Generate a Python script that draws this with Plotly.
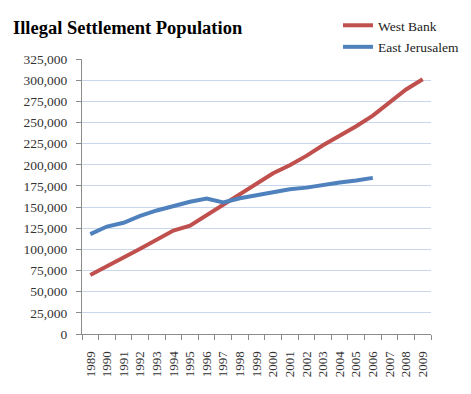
import plotly.graph_objects as go

years = [str(y) for y in range(1989, 2010)]
west_bank = [69800, 79500, 90300, 100700, 111000, 122300, 127900, 140500, 152500,
             165000, 178000, 190000, 199500, 210500, 223000, 234000, 245500, 258000,
             273000, 289000, 301000]
ej_years = [str(y) for y in range(1989, 2007)]
east_jerusalem = [118000, 127000, 131500, 139700, 146000, 151500, 156300, 160000, 155600,
                  160500, 164000, 167000, 171000, 173000, 176500, 179000, 181500, 184500]
y_ticks = list(range(0, 325001, 25000))
y_tick_text = [f"{v:,}" for v in y_ticks]

serif = "Liberation Serif, Times New Roman, serif"
# page body has an 8px margin, so the figure is sized to fit inside it
W, H = 463, 386
L, R, T, B = 74, 40, 51, 60
PW, PH = W - L - R, H - T - B

fig = go.Figure()
fig.add_trace(go.Scatter(x=years, y=west_bank, mode="lines", name="West Bank",
                         line=dict(color="#C0504D", width=4), legendgroup="a"))
fig.add_trace(go.Scatter(x=ej_years, y=east_jerusalem, mode="lines", name="East Jerusalem",
                         line=dict(color="#4F81BD", width=4), legendgroup="b"))

fig.update_layout(
    width=W, height=H,
    margin=dict(l=L, r=R, t=T, b=B, autoexpand=False),
    paper_bgcolor="white", plot_bgcolor="white",
    title=dict(text="<b>Illegal Settlement Population</b>",
               font=dict(family=serif, size=18.5, color="black"),
               xref="container", yref="container",
               x=5 / W, xanchor="left", y=1 - 20 / H, yanchor="middle"),
    showlegend=True,
    legend=dict(font=dict(family=serif, size=13.5, color="#222"),
                xref="paper", yref="paper",
                x=(330 - L) / PW, xanchor="left", y=(H - B - 2) / PH, yanchor="top",
                bgcolor="rgba(255,255,255,0)", traceorder="grouped",
                tracegroupgap=1),
    xaxis=dict(type="category", range=[-0.5, 20.5], tickson="boundaries",
               tickmode="linear", tick0=0, dtick=1, automargin=False,
               showgrid=False, showline=True, linecolor="#8c8c8c", linewidth=1,
               ticks="outside", ticklen=5, tickcolor="#8c8c8c",
               ticklabelstandoff=11,
               tickangle=-90, tickfont=dict(family=serif, size=13, color="#333")),
    yaxis=dict(range=[0, 325000], tickvals=y_ticks, ticktext=y_tick_text,
               automargin=False,
               showgrid=True, gridcolor="#c9d7ec", gridwidth=1.2,
               showline=True, linecolor="#8c8c8c", linewidth=1,
               ticks="outside", ticklen=5, tickcolor="#8c8c8c",
               ticklabelstandoff=6,
               zeroline=False,
               tickfont=dict(family=serif, size=13.5, color="#333")),
    shapes=[dict(type="rect", xref="paper", yref="paper",
                 x0=(309 - L) / PW, x1=1.02, y0=0.985, y1=1.02,
                 fillcolor="white", line=dict(width=0), layer="above")],
)

fig.write_html("out.html")
